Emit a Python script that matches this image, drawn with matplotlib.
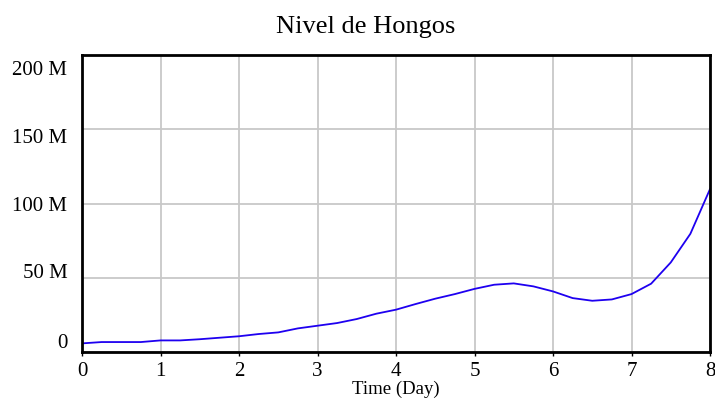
import matplotlib.pyplot as plt
import matplotlib.transforms as mtransforms
from matplotlib.ticker import FuncFormatter

plt.rcParams['font.family'] = ['Liberation Serif', 'DejaVu Serif']

# Simulation output, sampled every quarter day
time_days = [0, 0.25, 0.5, 0.75, 1, 1.25, 1.5, 1.75, 2, 2.25, 2.5, 2.75, 3,
             3.25, 3.5, 3.75, 4, 4.25, 4.5, 4.75, 5, 5.25, 5.5, 5.75, 6,
             6.25, 6.5, 6.75, 7, 7.25, 7.5, 7.75, 8]
hongos = [5.8, 6.7, 6.7, 6.7, 7.8, 7.8, 8.6, 9.6, 10.6, 12.1, 13.2, 15.9, 17.7,
          19.5, 22.2, 25.8, 28.5, 32.3, 35.9, 39.0, 42.5, 45.3, 46.2, 44.2, 40.8,
          36.3, 34.5, 35.4, 39.0, 46.0, 60.3, 79.6, 109.7]
hongos = [v * 1e6 for v in hongos]

y_ticks = [0, 50e6, 100e6, 150e6, 200e6]

fig = plt.figure(figsize=(7.15, 4.07), dpi=100)
ax = fig.add_axes([82 / 715, 1 - 352 / 407, 628 / 715, 297 / 407])

ax.plot(time_days, hongos, color='#1e00f0', linewidth=1.3)

ax.set_xlim(0, 8)
ax.set_ylim(0, 200e6)
ax.set_xticks(range(0, 9))
ax.set_yticks(y_ticks)
ax.yaxis.set_major_formatter(FuncFormatter(lambda v, p: '0' if v == 0 else f'{v / 1e6:.0f} M'))
ax.grid(True, color='#c8c8c8', linewidth=1.3)
ax.set_axisbelow(True)

for s in ax.spines.values():
    s.set_linewidth(2)
    s.set_color('black')

ax.tick_params(axis='x', labelsize=15, length=3, width=1, pad=4)
ax.tick_params(axis='y', labelsize=15, length=0, pad=10.5)

# y labels are spread evenly between the axis ends, not on the grid lines
shifts_px = [11, 7, 0, -7, -13]
for lab, dy in zip(ax.get_yticklabels(), shifts_px):
    lab.set_transform(lab.get_transform() +
                      mtransforms.ScaledTranslation(0, dy / 100, fig.dpi_scale_trans))

ax.set_xlabel('Time (Day)', fontsize=13.5, labelpad=0)
fig.text(366 / 715, 1 - 27 / 407, 'Nivel de Hongos', fontsize=19, ha='center', va='center')

fig.savefig('out.png', dpi=100)
